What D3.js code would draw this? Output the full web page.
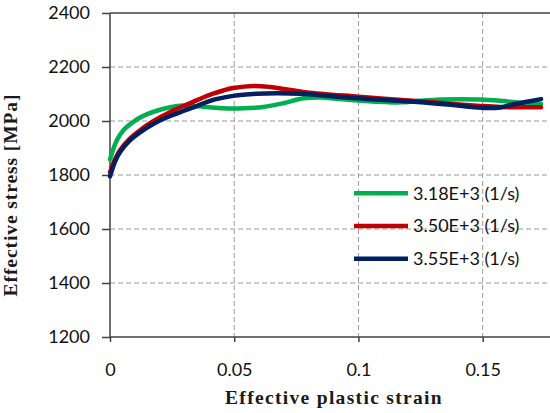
<!DOCTYPE html>
<html><head><meta charset="utf-8">
<script src="https://cdn.jsdelivr.net/npm/d3@7"></script>
<style>
html,body{margin:0;padding:0;background:#fff;}
svg{display:block;}
</style></head>
<body>
<svg id="chart" width="550" height="413"></svg>
<script>
// ---- data ----
const seriesNames = ["3.18E+3 (1/s)", "3.50E+3 (1/s)", "3.55E+3 (1/s)"];
const seriesColors = ["#00B050", "#C00000", "#002060"];

const greenStrain = [0, .0027, .0054, .0094, .0134, .0188, .0242, .0295, .0376, .0456, .0537, .0617, .0698, .0778, .085, .0899, .1, .1167, .1248, .1329, .1409, .149, .157, .165, .1735];
const greenStress = [1858, 1928, 1966, 1997, 2019, 2038, 2051, 2057, 2053, 2047, 2047, 2052, 2066, 2084, 2087, 2083, 2076, 2069, 2075, 2080, 2081, 2080, 2075, 2068, 2063];

const redStrain = [0, .002, .004, .008, .0121, .0174, .0228, .0262, .030, .0335, .0375, .0415, .0456, .0496, .0577, .0644, .0725, .0792, .1, .1275, .1382, .149, .157, .165, .1735];
const redStress = [1810, 1858, 1892, 1935, 1966, 1999, 2026, 2042, 2057, 2071, 2087, 2101, 2113, 2122, 2130, 2126, 2115, 2106, 2090, 2071, 2063, 2056, 2052, 2051, 2051];

const blueStrain = [0, .002, .004, .008, .0121, .0174, .0228, .0295, .0349, .0415, .0496, .059, .0671, .0765, .1, .1275, .1382, .1463, .1517, .157, .1624, .1678, .1735];
const blueStress = [1795, 1849, 1884, 1928, 1958, 1989, 2013, 2037, 2055, 2078, 2093, 2101, 2103, 2101, 2084, 2068, 2059, 2051, 2048, 2050, 2062, 2071, 2081];

const xTicks = [0, 0.05, 0.1, 0.15];
const xTickLabels = ["0", "0.05", "0.1", "0.15"];
const yTicks = [1200, 1400, 1600, 1800, 2000, 2200, 2400];
const yTickLabels = ["1200", "1400", "1600", "1800", "2000", "2200", "2400"];

const xTitle = "Effective plastic strain";
const yTitle = "Effective stress [MPa]";

// ---- chart ----
const svg = d3.select("#chart");
const L = 110, R = 550, T = 13, B = 337;
const x = d3.scaleLinear().domain([0, 0.1771]).range([L, R]);
const y = d3.scaleLinear().domain([1200, 2400]).range([B, T]);

const tickFont = "Lato, 'Open Sans', sans-serif";
const titleFont = "'Liberation Serif', 'DejaVu Serif', serif";

// grid
const grid = svg.append("g");
grid.selectAll("line.h").data(yTicks.filter(v => v > 1200 && v < 2400)).join("line")
  .attr("x1", L).attr("x2", R).attr("y1", d => y(d)).attr("y2", d => y(d))
  .attr("stroke", "#9a9a9a").attr("stroke-width", 1).attr("stroke-dasharray", "5,3");
grid.selectAll("line.v").data(xTicks.filter(v => v > 0)).join("line")
  .attr("x1", d => x(d)).attr("x2", d => x(d)).attr("y1", T).attr("y2", B)
  .attr("stroke", "#9a9a9a").attr("stroke-width", 1).attr("stroke-dasharray", "5,3");

// top border
svg.append("line").attr("x1", L).attr("x2", R).attr("y1", y(2400)).attr("y2", y(2400))
  .attr("stroke", "#404040").attr("stroke-width", 1.3);

// axes
const yAxis = d3.axisLeft(y).tickValues(yTicks).tickSize(8).tickSizeOuter(0).tickPadding(12)
  .tickFormat((d, i) => yTickLabels[i]);
const gy = svg.append("g").attr("transform", `translate(${L},0)`).call(yAxis);
const xAxis = d3.axisBottom(x).tickValues(xTicks).tickSize(5).tickSizeOuter(0).tickPadding(21)
  .tickFormat((d, i) => xTickLabels[i]);
const gx = svg.append("g").attr("transform", `translate(0,${B})`).call(xAxis);
[gx, gy].forEach(g => {
  g.select(".domain").attr("stroke", "#404040").attr("stroke-width", 1.5);
  g.selectAll(".tick line").attr("stroke", "#404040").attr("stroke-width", 1.5);
  g.selectAll(".tick text").attr("font-family", tickFont).attr("font-size", 18).attr("fill", "#111");
});
gy.select(".domain").attr("d", `M0,${B}V${T}`);
gx.select(".domain").attr("d", `M${L},0H${R}`);

// lines
const seriesData = [
  greenStrain.map((s, i) => [s, greenStress[i]]),
  redStrain.map((s, i) => [s, redStress[i]]),
  blueStrain.map((s, i) => [s, blueStress[i]])
];
const line = d3.line().x(d => x(d[0])).y(d => y(d[1])).curve(d3.curveCatmullRom.alpha(0.5));
svg.append("g").selectAll("path").data(seriesData).join("path")
  .attr("d", line).attr("fill", "none")
  .attr("stroke", (d, i) => seriesColors[i]).attr("stroke-width", 4.5)
  .attr("stroke-linecap", "round").attr("stroke-linejoin", "round");

// legend
const lg = svg.append("g");
const legY0 = 193.3, legDy = 32.7;
seriesNames.forEach((n, i) => {
  lg.append("line").attr("x1", 354).attr("x2", 408)
    .attr("y1", legY0 + i * legDy).attr("y2", legY0 + i * legDy)
    .attr("stroke", seriesColors[i]).attr("stroke-width", 4.5);
  lg.append("text").attr("x", 413).attr("y", legY0 + i * legDy).attr("dy", "0.36em")
    .attr("font-family", tickFont).attr("font-size", 18).attr("fill", "#111").text(n);
});

// titles (letter spacing fitted to the reference text widths)
function fitText(sel, target) {
  const n = sel.text().length;
  const w = sel.node().getComputedTextLength();
  sel.attr("letter-spacing", ((target - w) / n).toFixed(2));
}
const xt = svg.append("text").attr("x", 334).attr("y", 404).attr("text-anchor", "middle")
  .attr("font-family", titleFont).attr("font-weight", "bold").attr("font-size", 19.5)
  .attr("fill", "#1a1a1a").text(xTitle);
fitText(xt, 218);
const yt = svg.append("text").attr("transform", "translate(17,195) rotate(-90)").attr("text-anchor", "middle")
  .attr("font-family", titleFont).attr("font-weight", "bold").attr("font-size", 19.5)
  .attr("fill", "#1a1a1a").text(yTitle);
fitText(yt, 203);
</script>
</body></html>
